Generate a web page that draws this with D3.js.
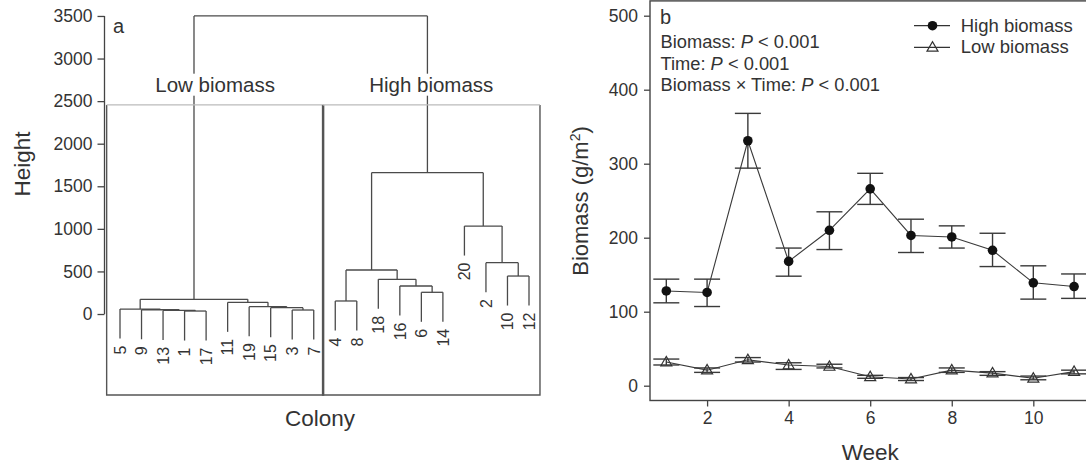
<!DOCTYPE html>
<html><head><meta charset="utf-8">
<script src="https://cdn.jsdelivr.net/npm/d3@7"></script>
<style>
body{margin:0;background:#fff;}
svg{display:block;font-family:"Liberation Sans",Arial,Helvetica,sans-serif;}
</style></head><body>
<svg id="chart" width="1086" height="468"></svg>
<script>
// ---------- Panel a: dendrogram data ----------
const leafOrder = ["5","9","13","1","17","11","19","15","3","7","4","8","18","16","6","14","20","2","10","12"];
// merges: [left child, right child, height]; children are leaf labels or "m<index>"
const merges = [
  ["1","17",35],      // m0
  ["13","m0",42],     // m1
  ["9","m1",50],      // m2
  ["5","m2",58],      // m3
  ["3","7",47],       // m4
  ["15","m4",74],     // m5
  ["19","m5",86],     // m6
  ["11","m6",137],    // m7
  ["m3","m7",172],    // m8 low biomass cluster
  ["6","14",255],     // m9
  ["16","m9",329],    // m10
  ["18","m10",407],   // m11
  ["4","8",153],      // m12
  ["m12","m11",517],  // m13
  ["10","12",446],    // m14
  ["2","m14",603],    // m15
  ["20","m15",1033],  // m16
  ["m13","m16",1660], // m17 high biomass cluster
  ["m8","m17",3500]   // m18 root
];
const clusterNames = ["Low biomass","High biomass"];
const clusterStart = [0.38, 10.41];   // leaf-position units
const clusterEnd   = [10.46, 20.51];
const clusterCut = 2455;
const heightTicks = [0,500,1000,1500,2000,2500,3000,3500];

// ---------- Panel b: biomass data ----------
const weeks = [1,2,3,4,5,6,7,8,9,10,11];
const highMean  = [128,126,331,168,210,266,203,201,183,139,134];
const highUpper = [144,144,368,186,235,287,225,216,206,162,151];
const highLower = [112,107,294,148,184,245,180,186,161,117,118];
const lowMean   = [32,21,35,28,26,12,9,21,17,10,19];
const lowUpper  = [36,24,38,31,29,14,11,24,19,13,21];
const lowLower  = [28,18,32,22,24,10,7,18,14,8,16];
const weekTicks = [2,4,6,8,10];
const biomassTicks = [0,100,200,300,400,500];
const seriesNames = ["High biomass","Low biomass"];

const svg = d3.select("#chart");
const ink = "#333", lineCol = "#4a4a4a";

// ================= Panel a =================
const gA = svg.append("g");
const xLeaf = d3.scaleLinear().domain([1,20]).range([120,529]);
const yH = d3.scaleLinear().domain([-951,3671]).range([395,1.4]);
const hang = 0.1*(d3.max(merges,d=>d[2]) - d3.min(merges,d=>d[2]));

const nodeX = {}, nodeH = {};
leafOrder.forEach((l,i)=>{ nodeX[l]=xLeaf(i+1); });
merges.forEach((m,i)=>{
  const id="m"+i;
  nodeX[id]=(nodeX[m[0]]+nodeX[m[1]])/2;
  nodeH[id]=m[2];
});
const leafBottom = {};
merges.forEach((m)=>{
  const h=m[2];
  gA.append("line").attr("x1",nodeX[m[0]]).attr("x2",nodeX[m[1]])
    .attr("y1",yH(h)).attr("y2",yH(h));
  [m[0],m[1]].forEach(c=>{
    let ch;
    if (c in nodeH) ch=nodeH[c]; else { ch=h-hang; leafBottom[c]=ch; }
    gA.append("line").attr("x1",nodeX[c]).attr("x2",nodeX[c])
      .attr("y1",yH(h)).attr("y2",yH(ch));
  });
});
gA.selectAll("line").attr("stroke",lineCol).attr("stroke-width",1.3);

// leaf labels
leafOrder.forEach(l=>{
  const x=nodeX[l], y=yH(leafBottom[l])+7;
  gA.append("text").attr("transform",`translate(${x},${y}) rotate(-90)`)
    .attr("text-anchor","end").attr("dy","0.36em")
    .attr("font-size",16).attr("fill",ink).text(l);
});

// cluster boxes
clusterNames.forEach((name,i)=>{
  const x0=xLeaf(clusterStart[i]), x1=xLeaf(clusterEnd[i]);
  const yt=yH(clusterCut), yb=yH(-951);
  gA.append("path").attr("d",`M${x0},${yt}V${yb}H${x1}V${yt}`)
    .attr("fill","none").attr("stroke","#555").attr("stroke-width",1.4);
  gA.append("line").attr("x1",x0).attr("x2",x1).attr("y1",yt).attr("y2",yt)
    .attr("stroke","#bbb").attr("stroke-width",1.2);
  const t=gA.append("text").attr("x",(x0+x1)/2).attr("y",91.7)
    .attr("text-anchor","middle").attr("font-size",20.5).attr("fill",ink).text(name);
  const bb=t.node().getBBox();
  gA.insert("rect","text").attr("x",bb.x-2).attr("y",bb.y+1).attr("width",bb.width+4)
    .attr("height",bb.height-1).attr("fill","#fff");
});
gA.selectAll("rect").raise();
gA.selectAll("text").raise();

// y axis
const axA = gA.append("g").attr("transform","translate(104.5,0)")
  .call(d3.axisLeft(yH).tickValues(heightTicks).tickFormat(d3.format("d"))
    .tickSize(7).tickPadding(5).tickSizeOuter(0));
axA.select(".domain").remove();
axA.append("line").attr("x1",0).attr("x2",0).attr("y1",yH(0)).attr("y2",yH(3500))
  .attr("stroke","#444").attr("stroke-width",1.3);
axA.selectAll(".tick line").attr("stroke","#444").attr("stroke-width",1.3);
axA.selectAll(".tick text").attr("font-size",17.5).attr("fill",ink)
  .attr("font-family","Liberation Sans, Arial, sans-serif");

gA.append("text").attr("x",113).attr("y",33).attr("font-size",20).attr("fill",ink).text("a");
gA.append("text").attr("transform","translate(30,164) rotate(-90)").attr("text-anchor","middle")
  .attr("font-size",22.5).attr("fill",ink).text("Height");
gA.append("text").attr("x",320).attr("y",426).attr("text-anchor","middle")
  .attr("font-size",22.5).attr("fill",ink).text("Colony");

// ================= Panel b =================
const gB = svg.append("g");
const xW = d3.scaleLinear().domain([0.6,11.4]).range([650,1090.4]);
const yB = d3.scaleLinear().domain([-20,520]).range([400.5,0.9]);

gB.append("rect").attr("x",xW(0.6)).attr("y",yB(520)).attr("width",xW(11.4)-xW(0.6))
  .attr("height",yB(-20)-yB(520)).attr("fill","none").attr("stroke","#444").attr("stroke-width",1.4);

const axBy = gB.append("g").attr("transform",`translate(${xW(0.6)},0)`)
  .call(d3.axisLeft(yB).tickValues(biomassTicks).tickFormat(d3.format("d")).tickSize(6).tickPadding(6));
axBy.select(".domain").remove();
const axBx = gB.append("g").attr("transform",`translate(0,${yB(-20)})`)
  .call(d3.axisBottom(xW).tickValues(weekTicks).tickFormat(d3.format("d")).tickSize(6).tickPadding(5));
axBx.select(".domain").remove();
[axBy,axBx].forEach(a=>{
  a.selectAll(".tick line").attr("stroke","#444").attr("stroke-width",1.3);
  a.selectAll(".tick text").attr("font-size",17.5).attr("fill",ink)
   .attr("font-family","Liberation Sans, Arial, sans-serif");
});

gB.append("text").attr("transform","translate(588,201) rotate(-90)").attr("text-anchor","middle")
  .attr("font-size",22).attr("fill",ink)
  .call(t=>{ t.append("tspan").text("Biomass (g/m");
             t.append("tspan").attr("font-size",14).attr("dy",-8).text("2");
             t.append("tspan").attr("dy",8).text(")"); });
gB.append("text").attr("x",xW(6)).attr("y",460).attr("text-anchor","middle")
  .attr("font-size",22.5).attr("fill",ink).text("Week");
gB.append("text").attr("x",660).attr("y",24).attr("font-size",20).attr("fill",ink).text("b");

const stats = [["Biomass: ",48],["Time: ",69.5],["Biomass \u00d7 Time: ",91]];
stats.forEach(([lab,y])=>{
  const t=gB.append("text").attr("x",660.5).attr("y",y).attr("font-size",18.3).attr("fill",ink);
  t.append("tspan").text(lab);
  t.append("tspan").attr("font-style","italic").text("P");
  t.append("tspan").text(" < 0.001");
});

// series
function drawSeries(mean, up, lo, type){
  const g=gB.append("g");
  const line=d3.line().x((d,i)=>xW(weeks[i])).y(d=>yB(d));
  g.append("path").attr("d",line(mean)).attr("fill","none").attr("stroke","#3a3a3a").attr("stroke-width",1.1);
  weeks.forEach((w,i)=>{
    const x=xW(w);
    g.append("line").attr("x1",x).attr("x2",x).attr("y1",yB(up[i])).attr("y2",yB(lo[i]));
    [up[i],lo[i]].forEach(v=>g.append("line").attr("x1",x-13).attr("x2",x+13).attr("y1",yB(v)).attr("y2",yB(v)));
  });
  g.selectAll("line").attr("stroke","#3a3a3a").attr("stroke-width",1.4);
  weeks.forEach((w,i)=>drawMarker(g,xW(w),yB(mean[i]),type));
}
function drawMarker(g,x,y,type){
  if(type==="dot") g.append("circle").attr("cx",x).attr("cy",y).attr("r",4.8).attr("fill","#111");
  else g.append("path").attr("d",`M${x-5.5},${y+3.8}L${x+5.5},${y+3.8}L${x},${y-5.6}Z`)
        .attr("fill","none").attr("stroke","#333").attr("stroke-width",1.2);
}
drawSeries(lowMean,lowUpper,lowLower,"tri");
drawSeries(highMean,highUpper,highLower,"dot");

// legend
seriesNames.forEach((name,i)=>{
  const y=[25.7,47.3][i];
  gB.append("line").attr("x1",914).attr("x2",950).attr("y1",y).attr("y2",y)
    .attr("stroke","#333").attr("stroke-width",1.2);
  drawMarker(gB,932.5,y,i===0?"dot":"tri");
  gB.append("text").attr("x",960.7).attr("y",y+6).attr("font-size",18.5).attr("fill",ink).text(name);
});
</script>
</body></html>
